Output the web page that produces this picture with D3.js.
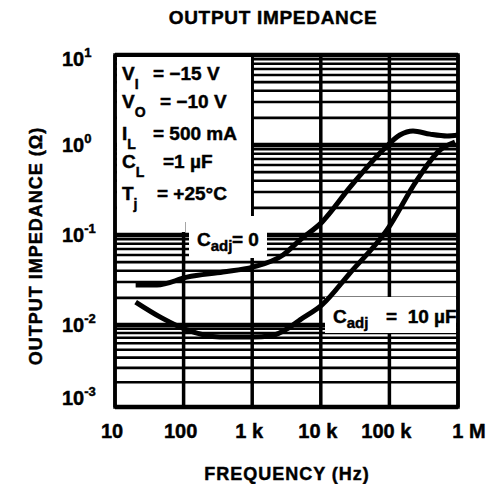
<!DOCTYPE html>
<html>
<head>
<meta charset="utf-8">
<script src="https://cdn.jsdelivr.net/npm/d3@7"></script>
<style>
  body { margin: 0; background: white; }
  svg { display: block; }
  text { font-family: "Liberation Sans", Arial, sans-serif; fill: black; stroke: black; stroke-width: 0.45px; }
</style>
</head>
<body>
<div id="chart"></div>
<script>
// 坐标轴刻度
const freqTicks = [10, 100, 1e3, 1e4, 1e5, 1e6];
const freqLabels = ["10", "100", "1 k", "10 k", "100 k", "1 M"];
const zDecades = [1e-3, 1e-2, 1e-1, 1, 10];
const zExponents = ["-3", "-2", "-1", "0", "1"];

// C_adj = 0 曲线
const freqCadj0 = [20, 41, 112, 375, 1020, 2810, 4980, 10400, 26700, 80700, 142000, 221000, 391000, 692000, 1000000];
const zCadj0 = [0.0278, 0.0278, 0.034, 0.0388, 0.044, 0.06, 0.088, 0.139, 0.34, 0.88, 1.29, 1.43, 1.32, 1.26, 1.29];

// C_adj = 10 uF 曲线
const freqCadj10 = [20, 48, 112, 339, 1030, 1820, 3560, 4980, 10400, 26600, 92300, 252000, 547000, 904000];
const zCadj10 = [0.018, 0.012, 0.0087, 0.00714, 0.00714, 0.00734, 0.00945, 0.0114, 0.0167, 0.0378, 0.114, 0.408, 0.88, 1.08];

// 测试条件
const conditions = [
  { main: "V", sub: "I", rest: "= \u221215 V" },
  { main: "V", sub: "O", rest: "= \u221210 V" },
  { main: "I", sub: "L", rest: "= 500 mA" },
  { main: "C", sub: "L", rest: "=1 \u00b5F" },
  { main: "T", sub: "j", rest: "=  +25\u00b0C" }
];

const width = 488, height = 484;
const svg = d3.select("#chart").append("svg")
  .attr("width", width)
  .attr("height", height);

const x = d3.scaleLog().domain([10, 1e6]).range([115, 458]);
// 扫描件的十倍程间距不完全均匀
const y = d3.scaleLog().domain(zDecades).range([407, 325, 235, 145, 55]);

const [x0, x1] = x.range();
const yTop = y(10), yBot = y(1e-3);

// 网格
const grid = svg.append("g");
const minor = [];
zDecades.slice(0, -1).forEach(d => d3.range(2, 10).forEach(k => minor.push(k * d)));

grid.selectAll(".minor")
  .data(minor)
  .enter()
  .append("line")
  .attr("x1", x0).attr("x2", x1)
  .attr("y1", d => y(d)).attr("y2", d => y(d))
  .attr("stroke", "black")
  .attr("stroke-width", 2.6);

grid.selectAll(".major")
  .data(zDecades)
  .enter()
  .append("line")
  .attr("x1", x0).attr("x2", x1)
  .attr("y1", d => y(d)).attr("y2", d => y(d))
  .attr("stroke", "black")
  .attr("stroke-width", 4.5);

grid.selectAll(".vert")
  .data(freqTicks)
  .enter()
  .append("line")
  .attr("x1", d => x(d)).attr("x2", d => x(d))
  .attr("y1", yTop).attr("y2", yBot)
  .attr("stroke", "black")
  .attr("stroke-width", 3.5);

// 文字背后的白底
const masks = [
  [117, 57, 251, 222],
  [117, 216, 185, 232],
  [189, 216, 267, 258],
  [325, 297, 456, 333]
];
svg.append("g").selectAll("rect")
  .data(masks)
  .enter()
  .append("rect")
  .attr("x", d => d[0]).attr("y", d => d[1])
  .attr("width", d => d[2] - d[0]).attr("height", d => d[3] - d[1])
  .attr("fill", "white");

// 曲线
const line = d3.line()
  .x(d => x(d[0]))
  .y(d => y(d[1]))
  .curve(d3.curveMonotoneX);

[[freqCadj0, zCadj0], [freqCadj10, zCadj10]].forEach(([f, z]) => {
  svg.append("path")
    .datum(f.map((v, i) => [v, z[i]]))
    .attr("d", line)
    .attr("fill", "none")
    .attr("stroke", "black")
    .attr("stroke-width", 5)
    .attr("stroke-linecap", "butt");
});

// 边框
svg.append("rect")
  .attr("x", x0).attr("y", yTop)
  .attr("width", x1 - x0).attr("height", yBot - yTop)
  .attr("fill", "none")
  .attr("stroke", "black")
  .attr("stroke-width", 3.5);

// x 轴刻度文字
svg.append("g").selectAll("text")
  .data(freqTicks)
  .enter()
  .append("text")
  .attr("x", (d, i) => x(d) + (i === freqTicks.length - 1 ? 11 : -3))
  .attr("y", 438)
  .attr("text-anchor", "middle")
  .attr("font-size", 20)
  .attr("font-weight", "bold")
  .text((d, i) => freqLabels[i]);

// y 轴刻度文字
const yl = svg.append("g").selectAll("text")
  .data(zDecades)
  .enter()
  .append("text")
  .attr("x", 62)
  .attr("y", d => Math.max(Math.min(y(d) + 7, 405), 66))
  .attr("font-size", 20)
  .attr("font-weight", "bold");
yl.append("tspan").text("10");
yl.append("tspan")
  .attr("dy", -9)
  .attr("font-size", 13)
  .text((d, i) => zExponents[i]);

// 标题和轴标题
svg.append("text")
  .attr("x", 273).attr("y", 24)
  .attr("text-anchor", "middle")
  .attr("font-size", 19)
  .attr("font-weight", "bold")
  .attr("letter-spacing", 0.7)
  .text("OUTPUT IMPEDANCE");

svg.append("text")
  .attr("x", 287).attr("y", 480)
  .attr("text-anchor", "middle")
  .attr("font-size", 18)
  .attr("font-weight", "bold")
  .attr("letter-spacing", 1)
  .text("FREQUENCY (Hz)");

svg.append("text")
  .attr("transform", "translate(42,246) rotate(-90)")
  .attr("text-anchor", "middle")
  .attr("font-size", 18)
  .attr("font-weight", "bold")
  .attr("letter-spacing", 1)
  .text("OUTPUT IMPEDANCE (\u03a9)");

// 条件说明
const condBase = [80, 108, 140, 168, 200];
const condRestX = [153, 160, 153, 163, 157];
const cond = svg.append("g").selectAll("text")
  .data(conditions)
  .enter()
  .append("text")
  .attr("x", 122)
  .attr("y", (d, i) => condBase[i])
  .attr("font-size", 19)
  .attr("font-weight", "bold");
cond.append("tspan").text(d => d.main);
cond.append("tspan").attr("dy", 9).attr("font-size", 14).text(d => d.sub);
cond.append("tspan")
  .attr("dy", -9)
  .attr("x", (d, i) => condRestX[i])
  .text(d => d.rest);

// 曲线标注
const addLabel = (lx, ly, restX, rest) => {
  const t = svg.append("text")
    .attr("x", lx).attr("y", ly)
    .attr("font-size", 19)
    .attr("font-weight", "bold");
  t.append("tspan").text("C");
  t.append("tspan").attr("dy", 5).attr("font-size", 15).text("adj");
  svg.append("text")
    .attr("x", restX).attr("y", ly)
    .attr("font-size", 19)
    .attr("font-weight", "bold")
    .attr("xml:space", "preserve")
    .style("white-space", "pre")
    .text(rest);
};
addLabel(197, 246, 232, "= 0");
addLabel(333, 323, 386, "=  10 \u00b5F");
</script>
</body>
</html>
